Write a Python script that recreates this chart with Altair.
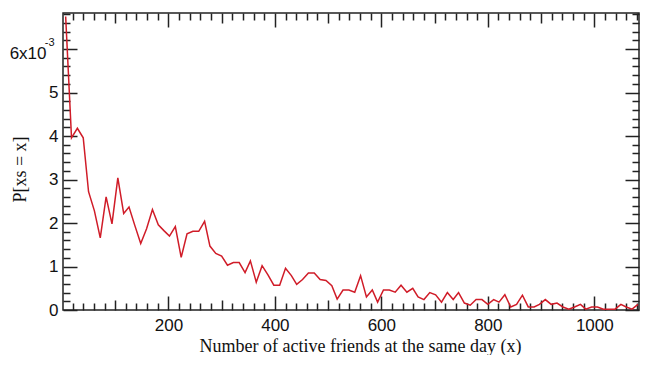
import altair as alt
import pandas as pd

# ---- data (x, probability in units of 1e-3) ----
x_vals = [7, 18, 29, 40, 50, 61, 72, 83, 94, 105,
          116, 126, 137, 148, 159, 170, 181, 192, 202, 213,
          224, 235, 246, 257, 268, 278, 289, 300, 311, 322,
          333, 344, 354, 365, 376, 387, 398, 409, 420, 431,
          441, 452, 463, 474, 485, 496, 507, 517, 528, 539,
          550, 561, 572, 583, 593, 604, 615, 626, 637, 648,
          659, 669, 680, 691, 702, 713, 724, 735, 745, 756,
          767, 778, 789, 800, 811, 821, 832, 843, 854, 865,
          876, 887, 897, 908, 919, 930, 941, 952, 963, 974,
          984, 995, 1006, 1017, 1028, 1039, 1050, 1060, 1071, 1082]
p_milli = [6.75, 3.96, 4.18, 3.96, 2.72, 2.28, 1.66, 2.60, 1.98, 3.04,
           2.22, 2.37, 1.94, 1.53, 1.87, 2.31, 1.96, 1.82, 1.70, 1.92,
           1.21, 1.75, 1.81, 1.81, 2.04, 1.47, 1.30, 1.24, 1.03, 1.09,
           1.09, 0.86, 1.13, 0.64, 1.02, 0.81, 0.57, 0.57, 0.96, 0.79,
           0.59, 0.70, 0.85, 0.85, 0.70, 0.68, 0.56, 0.25, 0.46, 0.46,
           0.41, 0.79, 0.30, 0.46, 0.18, 0.46, 0.46, 0.41, 0.57, 0.41,
           0.50, 0.30, 0.24, 0.40, 0.35, 0.18, 0.40, 0.24, 0.40, 0.16,
           0.11, 0.24, 0.24, 0.13, 0.24, 0.18, 0.35, 0.07, 0.13, 0.34,
           0.07, 0.07, 0.13, 0.24, 0.13, 0.16, 0.07, 0.02, 0.07, 0.13,
           0.02, 0.07, 0.07, 0.02, 0.02, 0.02, 0.13, 0.07, 0.02, 0.13]

# ---- tick positions ----
x_major = [200, 400, 600, 800, 1000]
x_medium = [100, 300, 500, 700, 900]
x_minor = [v for v in range(20, 1084, 20) if v % 100 != 0]
y_major_all = [0.0, 0.001, 0.002, 0.003, 0.004, 0.005, 0.006]
y_top_label = [0.006]
y_minor = [i * 0.0002 for i in range(1, 35) if i % 5 != 0]

df = pd.DataFrame({"x": x_vals, "p": [v / 1000.0 for v in p_milli]})

RED = "#d01c28"
INK = "#222222"

x_scale = alt.Scale(domain=[2, 1084], nice=False, zero=False)
y_scale = alt.Scale(domain=[0, 0.00683], nice=False, zero=False)


def ax(orient, values, size, **kw):
    return alt.Axis(orient=orient, values=values, tickSize=size, offset=-size,
                    domain=False, grid=False, ticks=True, tickColor=INK,
                    tickWidth=1.5, **kw)


base = alt.Chart(df)

line = base.mark_line(color=RED, strokeWidth=1.5).encode(
    x=alt.X("x:Q", scale=x_scale,
            title="Number of active friends at the same day (x)",
            axis=ax("bottom", x_major, 14, labels=True, labelPadding=7,
                    format="d",
                    titleX=297, titleY=55, titleAlign="center",
                    titleBaseline="alphabetic")),
    y=alt.Y("p:Q", scale=y_scale, title="P[xs = x]",
            axis=ax("left", y_major_all, 14, labels=True, labelPadding=5,
                    labelExpr="datum.value > 0.0055 ? '' : format(datum.value * 1000, '.0f')",
                    titleX=-52, titleY=156, titleAngle=270, titleAlign="center",
                    titleBaseline="alphabetic")),
)


def helper(xaxis, yaxis):
    return base.mark_line(opacity=0).encode(
        x=alt.X("x:Q", scale=x_scale, title=None, axis=xaxis),
        y=alt.Y("p:Q", scale=y_scale, title=None, axis=yaxis),
    )


h1 = helper(ax("bottom", x_medium, 10, labels=False),
            ax("left", y_minor, 7, labels=False))
h2 = helper(ax("bottom", x_minor, 7, labels=False),
            ax("right", y_major_all, 14, labels=False))
h3 = helper(ax("top", x_major, 14, labels=False),
            ax("right", y_minor, 7, labels=False))
h4 = helper(ax("top", x_medium, 10, labels=False),
            ax("left", y_top_label, 14, labels=True, labelPadding=17,
               labelOffset=4, tickOpacity=0, labelExpr="'6x10'"))
h5 = helper(ax("top", x_minor, 7, labels=False),
            ax("left", y_top_label, 14, labels=True, labelPadding=9,
               labelOffset=-7, tickOpacity=0, labelFontSize=11,
               labelExpr="'-3'"))

chart = alt.layer(line, h1, h2, h3, h4, h5).resolve_axis(
    x="independent", y="independent"
).properties(
    width=576, height=297,
    autosize=alt.AutoSizeParams(type="none"),
    padding={"left": 55, "top": 5, "right": 1, "bottom": 45},
).configure_view(
    stroke=INK, strokeWidth=1.5
).configure_axis(
    labelFont="Liberation Sans", labelFontSize=17, labelColor="#111111",
    titleFont="Liberation Serif", titleFontSize=18, titleColor="#111111",
    titleFontWeight="normal",
)

chart.save("out.html", embed_options={"renderer": "svg", "actions": False})
